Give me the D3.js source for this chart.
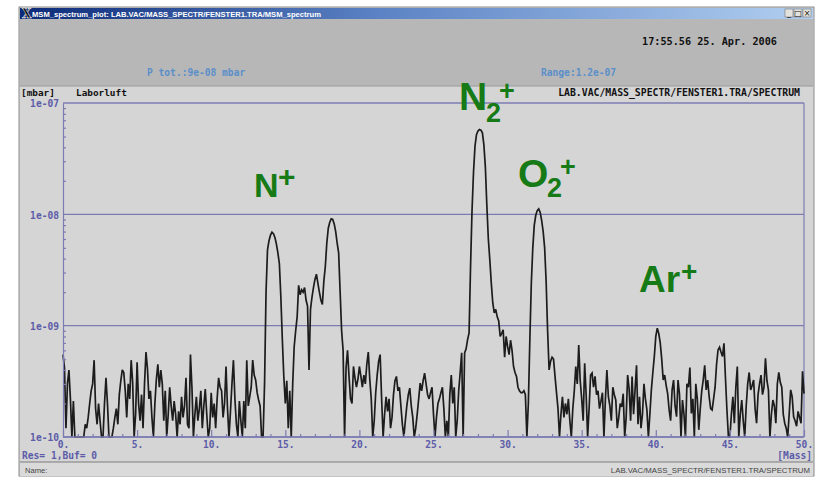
<!DOCTYPE html>
<html>
<head>
<meta charset="utf-8">
<script src="https://cdn.jsdelivr.net/npm/d3@7"></script>
<style>
  body { margin: 0; background: #fff; }
  svg { display: block; }
  .mono { font-family: "DejaVu Sans Mono", "Liberation Mono", monospace; font-weight: bold; }
  .peak { font-family: "Liberation Sans", Arial, sans-serif; font-weight: bold; fill: #167a16; }
</style>
</head>
<body>
<svg id="chart" width="822" height="477"></svg>
<script>
// Spectrum trace, units of 1e-10 mbar, sampled every 0.1 mass, one row per mass unit
const massStep = 0.1;
const signal00to10 = [
  5.5, 4.2, 1.2, 3.0, 4.0, 2.2, 0.8, 2.1, 0.8, 0.8,
  0.8, 0.9, 0.8, 0.8, 0.9, 1.3, 1.2, 1.5, 2.0, 2.6,
  3.0, 4.9, 1.8, 1.3, 2.0, 1.4, 0.8, 0.8, 2.0, 3.4,
  2.0, 0.8, 0.8, 0.9, 1.2, 1.5, 1.8, 1.3, 2.4, 3.2,
  4.0, 3.8, 2.6, 1.5, 3.0, 2.2, 4.9, 3.1, 0.8, 1.6,
  4.7, 2.0, 1.4, 2.4, 1.2, 3.0, 5.8, 4.1, 2.2, 2.6,
  1.5, 0.8, 2.0, 3.3, 4.5, 2.8, 4.0, 3.0, 1.4, 2.6,
  0.8, 1.6, 2.8, 1.9, 1.4, 2.1, 1.6, 0.8, 1.7, 1.3,
  2.3, 1.5, 1.9, 3.4, 1.3, 1.2, 5.5, 2.8, 0.8, 1.6,
  2.3, 1.4, 1.8, 2.6, 1.2, 1.9, 2.7, 1.6, 0.8, 1.2
];
const signal10to20 = [
  2.5, 1.5, 2.0, 1.2, 2.2, 3.4, 2.8, 2.6, 1.5, 2.0,
  4.3, 1.8, 0.8, 1.7, 3.0, 4.9, 2.2, 1.3, 0.8, 2.1,
  1.4, 0.8, 2.1, 1.2, 4.9, 1.9, 2.3, 2.8, 4.9, 3.6,
  3.25, 2.5, 2.15, 1.9, 0.8, 0.8, 3.0, 20, 48, 58,
  65, 69, 67, 62, 54, 45, 36, 18, 7.5, 3.5,
  2.0, 3.2, 1.2, 2.6, 0.8, 3.0, 6.5, 9.0, 12, 23,
  19, 21, 20, 22, 17, 15, 4.0, 14, 18, 22,
  26, 29, 24, 20, 17, 15.5, 25, 34, 55, 75,
  85, 91, 90, 82, 70, 55, 45, 20, 9.0, 6.0,
  0.8, 4.2, 6.0, 3.5, 2.2, 2.0, 4.3, 3.4, 2.8, 3.3
];
const signal20to30 = [
  4.3, 3.5, 2.8, 3.6, 3.0, 4.5, 5.8, 3.3, 2.2, 0.8,
  1.4, 2.5, 3.6, 4.8, 5.5, 2.2, 0.8, 1.6, 2.3, 1.7,
  2.2, 1.2, 1.5, 2.4, 3.2, 3.5, 2.6, 2.8, 1.9, 1.3,
  0.8, 1.4, 1.9, 2.4, 2.75, 1.9, 1.5, 0.8, 1.2, 1.6,
  2.2, 3.05, 2.6, 3.2, 3.75, 3.0, 2.4, 2.2, 2.5, 2.8,
  1.6, 0.8, 1.5, 2.0, 2.2, 2.5, 2.8, 1.8, 0.8, 1.4,
  0.8, 2.4, 3.6, 2.0, 2.8, 0.8, 1.4, 2.6, 3.8, 5.7,
  0.8, 5.7, 6.2, 7.5, 8.6, 34, 109, 240, 410, 520,
  560, 578, 570, 540, 420, 265, 120, 60, 39, 24,
  16, 13, 14, 12, 11, 8.0, 8.5, 9.2, 5.2, 8.0
];
const signal30to40 = [
  6.5, 5.5, 7.4, 6.0, 4.3, 3.8, 3.5, 2.8, 2.6, 2.5,
  2.5, 2.6, 2.4, 0.8, 2.0, 7.4, 24, 50, 80, 98,
  108, 112, 104, 88, 70, 50, 25, 9.0, 4.0, 4.8,
  5.2, 5.0, 3.5, 2.5, 1.8, 0.8, 1.6, 2.3, 1.5, 2.0,
  1.6, 2.2, 1.4, 0.8, 1.8, 2.6, 4.3, 3.0, 6.7, 3.2,
  2.2, 1.4, 4.6, 2.4, 0.8, 1.8, 3.6, 3.75, 2.8, 3.5,
  2.4, 2.6, 1.8, 2.1, 2.5, 0.8, 2.2, 4.0, 2.3, 1.9,
  1.4, 2.8, 2.4, 2.15, 1.2, 1.5, 2.0, 1.86, 2.45, 0.8,
  1.5, 3.6, 2.7, 1.4, 3.5, 1.6, 2.65, 4.4, 1.3, 2.3,
  1.2, 1.6, 3.0, 2.2, 1.75, 0.8, 1.6, 2.65, 3.8, 5.3
];
const signal40to50 = [
  8.0, 9.5, 8.5, 7.0, 5.0, 3.25, 3.6, 2.9, 2.45, 1.75,
  1.4, 2.65, 3.25, 1.9, 1.52, 3.25, 2.4, 0.8, 2.15, 1.6,
  0.8, 3.0, 2.8, 4.2, 1.63, 2.2, 0.8, 3.0, 2.2, 1.16,
  1.8, 2.6, 3.25, 4.4, 2.65, 3.25, 2.3, 1.8, 1.75, 2.2,
  2.8, 4.5, 6.05, 6.4, 5.8, 5.3, 6.95, 3.4, 1.75, 0.8,
  0.8, 1.6, 2.3, 1.33, 2.8, 4.3, 0.8, 1.6, 2.15, 1.4,
  0.8, 1.9, 3.0, 3.8, 2.65, 2.9, 3.25, 1.8, 1.33, 2.4,
  3.0, 3.6, 2.4, 2.8, 5.1, 3.2, 2.65, 0.8, 1.6, 2.15,
  1.9, 1.33, 3.0, 3.8, 3.1, 2.8, 1.6, 1.33, 1.2, 0.8,
  1.6, 2.65, 2.3, 1.52, 1.4, 1.25, 1.7, 1.5, 1.33, 3.9,
  2.45
];

const decadeTicks = [1e-7, 1e-8, 1e-9, 1e-10];
const decadeLabels = ["1e-07", "1e-08", "1e-09", "1e-10"];
const massMajor = [0, 5, 10, 15, 20, 25, 30, 35, 40, 45, 50];
const massLabels = ["0.", "5.", "10.", "15.", "20.", "25.", "30.", "35.", "40.", "45.", "50."];

const windowTitle = "MSM_spectrum_plot: LAB.VAC/MASS_SPECTR/FENSTER1.TRA/MSM_spectrum";
const timeStamp = "17:55.56 25. Apr. 2006";
const totalPressure = "P tot.:9e-08 mbar";
const rangeText = "Range:1.2e-07";
const unitText = "[mbar]";
const gasName = "Laborluft";
const sourcePath = "LAB.VAC/MASS_SPECTR/FENSTER1.TRA/SPECTRUM";
const bufferText = "Res= 1,Buf= 0";
const massUnit = "[Mass]";

// peak names: main letters, subscript, superscript
const peakNames = [
  ["N", "", "+"],
  ["N", "2", "+"],
  ["O", "2", "+"],
  ["Ar", "", "+"]
];

const layout = {
  winLeft: 19, winRight: 814, titleTop: 7, titleBottom: 19,
  headerBottom: 86, statusTop: 462, statusBottom: 476,
  plotLeft: 63, plotRight: 804, plotTop: 103, plotBottom: 437
};

const svg = d3.select("#chart");

// ---- window frame ----
let defs = svg.append("defs");
let grad = defs.append("linearGradient").attr("id", "titleGrad");
grad.append("stop").attr("offset", "0%").attr("stop-color", "#0c2a78");
grad.append("stop").attr("offset", "45%").attr("stop-color", "#5b82c4");
grad.append("stop").attr("offset", "100%").attr("stop-color", "#b2cff0");

svg.append("rect")
  .attr("x", layout.winLeft).attr("y", layout.titleTop)
  .attr("width", layout.winRight - layout.winLeft).attr("height", layout.statusBottom - layout.titleTop)
  .attr("fill", "#d5d5d5").attr("stroke", "#8a8a8a").attr("stroke-width", 1);

svg.append("rect")
  .attr("x", layout.winLeft + 1).attr("y", layout.titleTop + 1)
  .attr("width", layout.winRight - layout.winLeft - 2).attr("height", layout.titleBottom - layout.titleTop - 1)
  .attr("fill", "url(#titleGrad)");

svg.append("text")
  .attr("x", 22).attr("y", 18)
  .style("font-family", "DejaVu Serif, serif").style("font-weight", "bold").style("font-size", "12px")
  .attr("fill", "#111").attr("stroke", "#fff").attr("stroke-width", 0.4)
  .text("X");

svg.append("text")
  .attr("x", 32).attr("y", 16.5)
  .style("font-family", "Liberation Sans, Arial, sans-serif").style("font-weight", "bold").style("font-size", "7.6px")
  .attr("fill", "#fff")
  .text(windowTitle);

let btnGlyphs = ["_", "\u25a1", "\u00d7"];
let btns = svg.append("g");
btnGlyphs.forEach(function(g, i) {
  let bx = 785 + i * 9;
  btns.append("rect").attr("x", bx).attr("y", 9).attr("width", 8).attr("height", 8)
    .attr("fill", "#e4e2dc").attr("stroke", "#777").attr("stroke-width", 0.6);
  btns.append("text").attr("x", bx + 4).attr("y", 16).attr("text-anchor", "middle")
    .style("font-family", "DejaVu Sans, sans-serif").style("font-size", "8px").attr("fill", "#111")
    .text(g);
});

// header block
svg.append("rect")
  .attr("x", layout.winLeft + 1).attr("y", layout.titleBottom)
  .attr("width", layout.winRight - layout.winLeft - 2).attr("height", layout.headerBottom - layout.titleBottom)
  .attr("fill", "#b7b7b7");
svg.append("line")
  .attr("x1", layout.winLeft + 1).attr("x2", layout.winRight - 1)
  .attr("y1", layout.headerBottom).attr("y2", layout.headerBottom)
  .attr("stroke", "#9a9a9a");

svg.append("text").attr("class", "mono")
  .attr("x", 642).attr("y", 45).style("font-size", "10.2px").attr("fill", "#111")
  .text(timeStamp);
svg.append("text").attr("class", "mono")
  .attr("x", 147).attr("y", 76).style("font-size", "9.6px").attr("fill", "#5b8fca")
  .text(totalPressure);
svg.append("text").attr("class", "mono")
  .attr("x", 541).attr("y", 76).style("font-size", "9.6px").attr("fill", "#5b8fca")
  .text(rangeText);

svg.append("text").attr("class", "mono")
  .attr("x", 21).attr("y", 96).style("font-size", "9.4px").attr("fill", "#111")
  .text(unitText);
svg.append("text").attr("class", "mono")
  .attr("x", 76).attr("y", 96).style("font-size", "9.4px").attr("fill", "#111")
  .text(gasName);
svg.append("text").attr("class", "mono")
  .attr("x", 800).attr("y", 96).attr("text-anchor", "end").style("font-size", "9.8px").attr("fill", "#111")
  .text(sourcePath);

// status bar
svg.append("rect")
  .attr("x", layout.winLeft + 1).attr("y", layout.statusTop)
  .attr("width", layout.winRight - layout.winLeft - 2).attr("height", layout.statusBottom - layout.statusTop)
  .attr("fill", "#dadada");
svg.append("line")
  .attr("x1", layout.winLeft + 1).attr("x2", layout.winRight - 1)
  .attr("y1", layout.statusTop).attr("y2", layout.statusTop)
  .attr("stroke", "#7c7c7c").attr("stroke-width", 1.2);
svg.append("text")
  .attr("x", 25).attr("y", 472.5)
  .style("font-family", "Liberation Sans, Arial, sans-serif").style("font-size", "7.6px").attr("fill", "#444")
  .text("Name:");
svg.append("text")
  .attr("x", 810).attr("y", 472.5).attr("text-anchor", "end")
  .style("font-family", "Liberation Sans, Arial, sans-serif").style("font-size", "7.8px").attr("fill", "#444")
  .text(sourcePath);

// ---- scales ----
const signal = signal00to10.concat(signal10to20, signal20to30, signal30to40, signal40to50);
const trace = signal.map(function(v, i) { return { mass: i * massStep, p: v * 1e-10 }; });

const x = d3.scaleLinear().domain([0, 50]).range([layout.plotLeft, layout.plotRight]);
const y = d3.scaleLog().domain([1e-10, 1e-7]).range([layout.plotBottom, layout.plotTop]).clamp(true);

const axisColor = "#7c7cb2";
const labelColor = "#5c5ca8";

// decade grid lines
svg.append("g").selectAll("line").data(decadeTicks).enter()
  .append("line")
  .attr("x1", layout.plotLeft).attr("x2", layout.plotRight)
  .attr("y1", function(d) { return y(d); }).attr("y2", function(d) { return y(d); })
  .attr("stroke", axisColor).attr("stroke-width", 1.4);

// right border
svg.append("line")
  .attr("x1", layout.plotRight).attr("x2", layout.plotRight)
  .attr("y1", layout.plotTop).attr("y2", layout.plotBottom)
  .attr("stroke", axisColor).attr("stroke-width", 1.2);

// ---- trace ----
let line = d3.line()
  .x(function(d) { return x(d.mass); })
  .y(function(d) { return y(d.p); });

svg.append("path")
  .datum(trace)
  .attr("d", line)
  .attr("fill", "none")
  .attr("stroke", "#1c1c1c")
  .attr("stroke-width", 1.7)
  .attr("stroke-linejoin", "miter")
  .attr("stroke-miterlimit", 3);

// ---- axes ----
function createAxis(className, axis, tx, ty) {
  return svg.append("g")
    .attr("class", className)
    .attr("transform", "translate(" + tx + ", " + ty + ")")
    .call(axis);
}

let minorY = [];
decadeTicks.slice(0, 3).forEach(function(d) {
  for (let k = 2; k <= 9; k++) minorY.push(d / 10 * k);
});
let leftMinor = createAxis("leftMinor", d3.axisRight(y).tickValues(minorY).tickSize(3).tickFormat(""), layout.plotLeft, 0);
let leftAxis = createAxis("leftAxis", d3.axisLeft(y).tickValues(decadeTicks).tickSize(0).tickPadding(4)
  .tickFormat(function(d, i) { return decadeLabels[i]; }), layout.plotLeft, 0);

let massMinor = d3.range(1, 50).filter(function(m) { return m % 5 !== 0; });
let bottomMinor = createAxis("bottomMinor", d3.axisTop(x).tickValues(massMinor).tickSize(3).tickFormat(""), 0, layout.plotBottom);
let bottomMajor = createAxis("bottomMajor", d3.axisTop(x).tickValues(massMajor).tickSize(7).tickFormat(""), 0, layout.plotBottom);
let bottomAxis = createAxis("bottomAxis", d3.axisBottom(x).tickValues(massMajor).tickSize(0).tickPadding(4)
  .tickFormat(function(d, i) { return massLabels[i]; }), 0, layout.plotBottom);

svg.selectAll(".leftMinor path, .bottomMinor path, .bottomMajor path, .bottomAxis path").remove();
svg.selectAll(".leftAxis path, .leftMinor line, .bottomMinor line, .bottomMajor line")
  .attr("stroke", axisColor).attr("stroke-width", 1.2);
svg.selectAll(".leftAxis text, .bottomAxis text")
  .attr("class", "mono")
  .style("font-size", "9.6px")
  .attr("fill", labelColor);
svg.selectAll(".leftAxis text").attr("dy", "0.4em");
svg.select(".bottomAxis").selectAll("text").attr("dy", "0.75em");

svg.append("line")
  .attr("x1", layout.plotLeft).attr("x2", layout.plotRight)
  .attr("y1", layout.plotBottom).attr("y2", layout.plotBottom)
  .attr("stroke", axisColor).attr("stroke-width", 1.4);

svg.append("text").attr("class", "mono")
  .attr("x", 22).attr("y", 459).style("font-size", "9.6px").attr("fill", labelColor)
  .text(bufferText);
svg.append("text").attr("class", "mono")
  .attr("x", 812).attr("y", 459).attr("text-anchor", "end").style("font-size", "9.6px").attr("fill", labelColor)
  .text(massUnit);

// ---- peak annotations ----
const peakPlacement = [
  { x: 254, y: 197, size: 34, supX: 278, supY: 187, subX: 0, subY: 0, small: 30 },
  { x: 459, y: 110, size: 39, supX: 499, supY: 100, subX: 486, subY: 122, small: 27 },
  { x: 518, y: 187, size: 39, supX: 560, supY: 176, subX: 547, subY: 197, small: 27 },
  { x: 639, y: 292, size: 37, supX: 681, supY: 281, subX: 0, subY: 0, small: 28 }
];
peakNames.forEach(function(p, i) {
  let pl = peakPlacement[i];
  let g = svg.append("g").attr("class", "peakLabel");
  g.append("text").attr("class", "peak").attr("x", pl.x).attr("y", pl.y)
    .style("font-size", pl.size + "px").text(p[0]);
  if (p[1]) {
    g.append("text").attr("class", "peak").attr("x", pl.subX).attr("y", pl.subY)
      .style("font-size", pl.small + "px").text(p[1]);
  }
  g.append("text").attr("class", "peak").attr("x", pl.supX).attr("y", pl.supY)
    .style("font-size", pl.small + "px").text(p[2]);
});
</script>
</body>
</html>
